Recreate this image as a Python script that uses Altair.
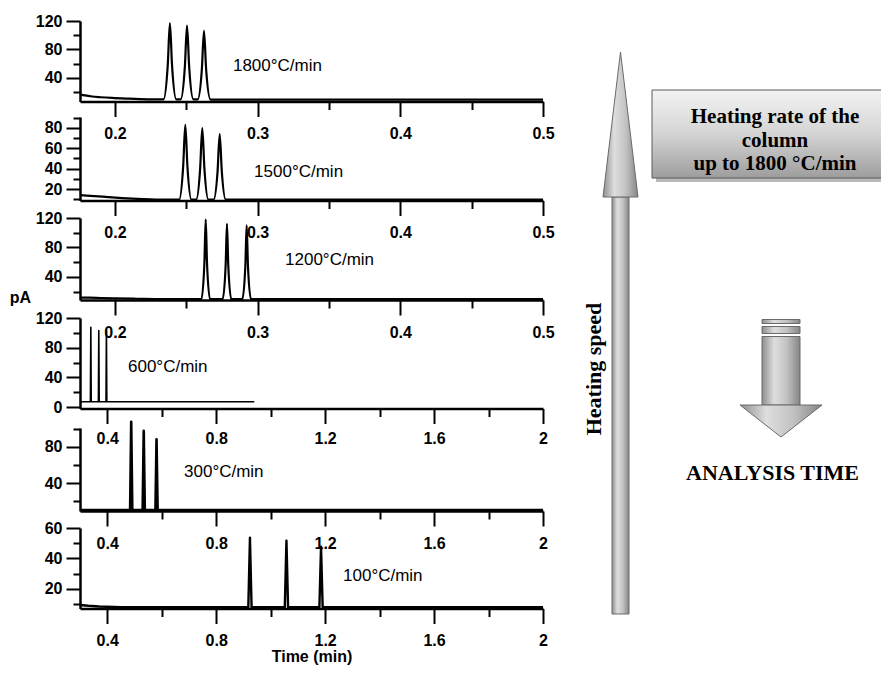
import altair as alt
import pandas as pd

# ---------------- chromatogram traces (time in min, signal in pA) ----------------
t_1800 = [0.1755, 0.179, 0.184, 0.190, 0.198, 0.210, 0.225,
          0.2340, 0.2370, 0.2385, 0.2400, 0.2430,
          0.2460, 0.2490, 0.2505, 0.2520, 0.2550,
          0.2580, 0.2609, 0.2624, 0.2639, 0.2670,
          0.285, 0.350, 0.420, 0.500]
s_1800 = [17, 15.5, 14, 13, 12, 11, 10,
          10, 58, 117, 58, 10,
          10, 56, 113.5, 56, 10,
          10, 52, 106, 52, 9.5,
          9.5, 9.5, 9.5, 9.5]

t_1500 = [0.1755, 0.180, 0.186, 0.195, 0.205, 0.220, 0.235,
          0.2450, 0.2478, 0.2493, 0.2508, 0.2536,
          0.2569, 0.2597, 0.2612, 0.2627, 0.2655,
          0.2691, 0.2719, 0.2734, 0.2749, 0.2777,
          0.300, 0.400, 0.500]
s_1500 = [14, 13.5, 13, 12, 11, 10, 9.5,
          9.5, 42, 83, 42, 9.5,
          9.5, 40, 80, 40, 9.5,
          9.5, 37, 74, 37, 9.5,
          9.5, 9.5, 9.5]

t_1200 = [0.1755, 0.182, 0.190, 0.200, 0.215, 0.235, 0.255,
          0.2606, 0.2627, 0.2636, 0.2645, 0.2666,
          0.2755, 0.2776, 0.2785, 0.2794, 0.2815,
          0.2893, 0.2914, 0.2923, 0.2932, 0.2953,
          0.320, 0.400, 0.500]
s_1200 = [12, 12, 11.5, 11, 10.5, 10, 10,
          10, 60, 118, 60, 10,
          10, 57, 112, 57, 10,
          10, 56, 110, 56, 10,
          10, 10, 10]

t_600 = [0.300, 0.3382, 0.3397, 0.3412, 0.3675, 0.3690, 0.3705, 0.3955, 0.3970, 0.3985, 0.940]
s_600 = [7, 7, 107.5, 7, 7, 103, 7, 7, 103, 7, 7]

t_300 = [0.300, 0.484, 0.488, 0.492, 0.530, 0.534, 0.538, 0.577, 0.581, 0.585, 2.000]
s_300 = [10, 10, 108, 10, 10, 98, 10, 10, 88.5, 10, 10]

t_100 = [0.300, 0.330, 0.370, 0.450, 0.918, 0.924, 0.930, 1.052, 1.058, 1.064, 1.179, 1.185, 1.191, 2.000]
s_100 = [9.5, 9, 8.5, 8, 8, 53.6, 8, 8, 51.7, 8, 8, 47.7, 8, 8]

rate_labels = ["1800°C/min", "1500°C/min", "1200°C/min", "600°C/min", "300°C/min", "100°C/min"]
rate_label_t = [0.2827, 0.2975, 0.3192, 0.4762, 0.6819, 1.2657]
rate_label_s = [57.5, 36.7, 63.0, 53.3, 52.2, 28.5]

# axis tick values
xticks_fast = [0.2, 0.25, 0.3, 0.35, 0.4, 0.45, 0.5]
xticks_slow = [0.4, 0.6, 0.8, 1.0, 1.2, 1.4, 1.6, 1.8, 2.0]
yticks_1800 = [20, 40, 60, 80, 100, 120]
yticks_1500 = [10, 20, 30, 40, 50, 60, 70, 80, 90]
yticks_1200 = [20, 40, 60, 80, 100, 120]
yticks_600 = [0, 20, 40, 60, 80, 100, 120]
yticks_300 = [20, 40, 60, 80, 100]
yticks_100 = [10, 20, 30, 40, 50, 60]

# ---------------- layout (pixels inside the 873 x 659 view) ----------------
W, H = 873, 659
SANS = "Liberation Sans"
SERIF = "Liberation Serif"

panels = [
    dict(t=t_1800, s=s_1800, xd=[0.1755, 0.5], yd=[7, 120], yr=[93.5, 13], xt=xticks_fast, yt=yticks_1800, ymaj=40, sw=2.2, fast=True, lp=9),
    dict(t=t_1500, s=s_1500, xd=[0.1755, 0.5], yd=[8.7, 90.8], yr=[192.5, 109], xt=xticks_fast, yt=yticks_1500, ymaj=20, sw=2.2, fast=True, lp=9),
    dict(t=t_1200, s=s_1200, xd=[0.1755, 0.5], yd=[8.8, 120], yr=[292, 210], xt=xticks_fast, yt=yticks_1200, ymaj=40, sw=2.2, fast=True, lp=9),
    dict(t=t_600, s=s_600, xd=[0.3, 2.0], yd=[-2, 120], yr=[400.5, 310], xt=xticks_slow, yt=yticks_600, ymaj=40, sw=1.6, fast=False, lp=7),
    dict(t=t_300, s=s_300, xd=[0.3, 2.0], yd=[9, 101], yr=[503, 420], xt=xticks_slow, yt=yticks_300, ymaj=40, sw=2.6, fast=False, lp=9),
    dict(t=t_100, s=s_100, xd=[0.3, 2.0], yd=[7.2, 60], yr=[600.5, 520], xt=xticks_slow, yt=yticks_100, ymaj=20, sw=2.4, fast=False, lp=9),
]
XR = [72, 535]


def cond(test, a, b):
    return {"condition": {"test": test, "value": a}, "value": b}


layers = []
for i, p in enumerate(panels):
    if p["fast"]:
        xtest = "abs(datum.value*10 - round(datum.value*10)) < 0.001"
        xlab = xtest + " ? format(datum.value, '.1f') : ''"
    else:
        xtest = "abs(datum.value/0.4 - round(datum.value/0.4)) < 0.001"
        xlab = xtest + " ? (datum.value == 2 ? '2' : format(datum.value, '.1f')) : ''"
    ytest = f"datum.value % {p['ymaj']} == 0"
    ylab = ytest + " ? format(datum.value, 'd') : ''"

    xaxis_kw = dict(
        orient="bottom", offset=p["yr"][0] - H, values=p["xt"], labelExpr=xlab,
        tickSize=cond(xtest, 15, 8), tickWidth=2, tickColor="black",
        domainColor="black", domainWidth=2.5, labelFont=SANS, labelFontSize=16,
        labelFontWeight="bold", labelColor="black", labelPadding=p["lp"],
        labelFlush=False, labelOverlap=False, labelBound=False, grid=False, title=None,
    )
    if i == 5:
        xaxis_kw.update(title="Time (min)", titleFont=SANS, titleFontSize=16,
                        titleFontWeight="bold", titleColor="black", titlePadding=0)
    yaxis_kw = dict(
        orient="left", offset=-XR[0], values=p["yt"], labelExpr=ylab,
        tickSize=cond(ytest, 14, 7), tickWidth=2, tickColor="black",
        domainColor="black", domainWidth=2.5, labelFont=SANS, labelFontSize=16,
        labelFontWeight="bold", labelColor="black", labelPadding=4,
        labelOverlap=False, labelBound=False, labelFlush=False, grid=False, title=None,
    )
    if i == 2:
        yaxis_kw.update(title="pA", titleAngle=0, titleX=-60, titleY=289,
                        titleAlign="center", titleBaseline="middle", titleFont=SANS,
                        titleFontSize=16, titleFontWeight="bold", titleColor="black")

    X = alt.X("t:Q", scale=alt.Scale(domain=p["xd"], range=XR, nice=False, zero=False),
              axis=alt.Axis(**xaxis_kw))
    Y = alt.Y("s:Q", scale=alt.Scale(domain=p["yd"], range=p["yr"], nice=False, zero=False),
              axis=alt.Axis(**yaxis_kw))

    df = pd.DataFrame({"t": p["t"], "s": p["s"]})
    line = alt.Chart(df).mark_line(color="black", strokeWidth=p["sw"],
                                   interpolate="monotone" if p["fast"] else "linear",
                                   strokeJoin="round").encode(x=X, y=Y)
    lab = pd.DataFrame({"t": [rate_label_t[i]], "s": [rate_label_s[i]], "label": [rate_labels[i]]})
    txt = alt.Chart(lab).mark_text(align="left", baseline="middle", font=SANS,
                                   fontSize=17, color="black").encode(x=X, y=Y, text="label:N")
    layers.append(alt.layer(line, txt))

# ---------------- right-hand diagram (page pixel units) ----------------
DX = alt.Scale(domain=[0, 889], range=[-8, 881], nice=False, zero=False)
DY = alt.Scale(domain=[0, 675], range=[-8, 667], nice=False, zero=False)


def gx(field):
    return alt.X(field, scale=DX, axis=None)


def gy(field):
    return alt.Y(field, scale=DY, axis=None)


grad_h = alt.LinearGradient(gradient="linear", x1=0, x2=1, y1=0, y2=0, stops=[
    alt.GradientStop(color="#8e8e8e", offset=0), alt.GradientStop(color="#dedede", offset=0.32),
    alt.GradientStop(color="#c2c2c2", offset=0.65), alt.GradientStop(color="#858585", offset=1)])
grad_box = alt.LinearGradient(gradient="linear", x1=0, x2=0, y1=0, y2=1, stops=[
    alt.GradientStop(color="#f3f3f3", offset=0), alt.GradientStop(color="#d4d4d4", offset=0.5),
    alt.GradientStop(color="#9d9d9d", offset=1)])

up_shaft = pd.DataFrame({"x0": [612], "x1": [629], "y0": [197], "y1": [614]})
up_head = pd.DataFrame({"x": [603, 620.5, 638], "y": [197, 52, 197], "yb": [197, 197, 197]})
box_shadow = pd.DataFrame({"x0": [656], "x1": [888], "y0": [94], "y1": [182]})
box = pd.DataFrame({"x0": [652], "x1": [884], "y0": [90], "y1": [178]})
down_parts = pd.DataFrame({"x0": [762, 762, 762], "x1": [800, 800, 800],
                           "y0": [319.5, 326.5, 336.5], "y1": [323.5, 333.5, 405]})
down_head = pd.DataFrame({"x": [740, 781, 822], "y": [405, 437, 405], "yb": [405, 405, 405]})
box_text = pd.DataFrame({"x": [775], "y": [117], "text": ["Heating rate of the\ncolumn\nup to 1800 °C/min"]})
speed_text = pd.DataFrame({"x": [593.5], "y": [369], "text": ["Heating speed"]})
time_text = pd.DataFrame({"x": [772.5], "y": [472.5], "text": ["ANALYSIS TIME"]})

rect_enc = dict(x=gx("x0:Q"), x2="x1:Q", y=gy("y0:Q"), y2="y1:Q")
deco = alt.layer(
    alt.Chart(up_shaft).mark_rect(fill=grad_h, stroke="#6a6a6a", strokeWidth=1).encode(**rect_enc),
    alt.Chart(up_head).mark_area(fill=grad_h, stroke="#6a6a6a", strokeWidth=1, interpolate="linear").encode(
        x=gx("x:Q"), y=gy("y:Q"), y2="yb:Q"),
    alt.Chart(box_shadow).mark_rect(fill="#8a8a8a", opacity=0.6).encode(**rect_enc),
    alt.Chart(box).mark_rect(fill=grad_box, stroke="#5a5a5a", strokeWidth=1).encode(**rect_enc),
    alt.Chart(down_parts).mark_rect(fill=grad_h, stroke="#6a6a6a", strokeWidth=1).encode(**rect_enc),
    alt.Chart(down_head).mark_area(fill=grad_h, stroke="#6a6a6a", strokeWidth=1, interpolate="linear").encode(
        x=gx("x:Q"), y=gy("y:Q"), y2="yb:Q"),
    alt.Chart(box_text).mark_text(font=SERIF, fontSize=21, fontWeight="bold", color="black",
                                  lineBreak="\n", lineHeight=23.5, align="center", baseline="middle").encode(
        x=gx("x:Q"), y=gy("y:Q"), text="text:N"),
    alt.Chart(speed_text).mark_text(font=SERIF, fontSize=22, fontWeight="bold", color="black",
                                    angle=270, align="center", baseline="middle").encode(
        x=gx("x:Q"), y=gy("y:Q"), text="text:N"),
    alt.Chart(time_text).mark_text(font=SERIF, fontSize=22, fontWeight="bold", color="black",
                                   align="center", baseline="middle").encode(
        x=gx("x:Q"), y=gy("y:Q"), text="text:N"),
)

chart = alt.layer(*layers, deco).resolve_scale(x="independent", y="independent").properties(
    width=W, height=H, autosize=alt.AutoSizeParams(type="none"), padding=0,
    background="white",
).configure_view(stroke=None)

chart.save("out.html", embed_options={"renderer": "svg", "actions": False})
